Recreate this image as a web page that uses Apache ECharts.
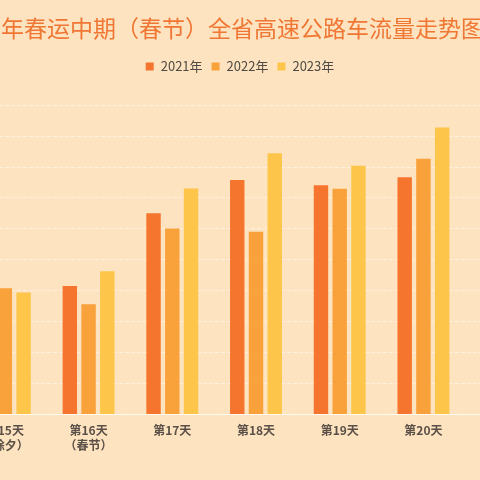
<!DOCTYPE html>
<html>
<head>
<meta charset="utf-8">
<script src="https://cdn.jsdelivr.net/npm/echarts@6/dist/echarts.min.js"></script>
<style>
  html, body { margin: 0; padding: 0; width: 480px; height: 480px; overflow: hidden; background: #fde3bf; }
  /* the picture is a crop of a wider chart: the canvas runs past both edges */
  #chart { position: absolute; left: -80px; top: 0; width: 640px; height: 480px; }
</style>
</head>
<body>
<div id="chart"></div>
<script>
// 类目（第21天在画面右侧外）
const days = ['第15天\n（除夕）', '第16天\n（春节）', '第17天', '第18天', '第19天', '第20天', '第21天'];
const years = ['2021年', '2022年', '2023年'];
// 车流量（万辆，估读）
const flow2021 = [43, 41.4, 65, 75.7, 74, 76.6, 75];
const flow2022 = [40.7, 35.5, 60, 59, 72.9, 82.6, 80];
const flow2023 = [39.3, 46.2, 73, 84.4, 80.3, 92.7, 90];
const yTicks = { min: 0, max: 100, interval: 10 };

const colors = ['#f5752e', '#f9a13a', '#fdc64a'];

const myChart = echarts.init(document.getElementById('chart'));

const option = {
    backgroundColor: '#fde3bf',
    color: colors,
    title: {
        text: '2023年春运中期（春节）全省高速公路车流量走势图',
        left: 25,
        top: 12,
        textStyle: {
            color: '#f07634',
            fontSize: 23,
            fontWeight: 'normal',
            fontFamily: 'Noto Sans CJK SC'
        }
    },
    legend: {
        data: years,
        left: 'center',
        top: 55,
        itemWidth: 8,
        itemHeight: 8,
        itemGap: 9,
        icon: 'rect',
        textStyle: {
            color: '#4f4a45',
            fontSize: 13,
            padding: [0, 0, 0, 2],
            fontFamily: 'Noto Sans CJK SC'
        }
    },
    grid: {
        left: 43,
        right: 11,
        top: 105,
        bottom: 66,
        containLabel: false
    },
    xAxis: {
        type: 'category',
        data: days,
        axisTick: { show: false },
        axisLine: { lineStyle: { color: 'rgba(255,255,255,0.7)' } },
        axisLabel: {
            color: '#5a5048',
            fontSize: 12,
            fontWeight: 'bold',
            margin: 9,
            lineHeight: 15,
            fontFamily: 'Noto Sans CJK SC'
        }
    },
    yAxis: {
        type: 'value',
        min: yTicks.min,
        max: yTicks.max,
        interval: yTicks.interval,
        axisLabel: { color: '#5a5048' },
        splitLine: {
            lineStyle: { color: 'rgba(255,255,255,0.45)', type: 'dashed' }
        }
    },
    series: [
        { name: years[0], type: 'bar', data: flow2021, barGap: '30%', barCategoryGap: '38%' },
        { name: years[1], type: 'bar', data: flow2022 },
        { name: years[2], type: 'bar', data: flow2023 }
    ]
};

myChart.setOption(option);
</script>
</body>
</html>
